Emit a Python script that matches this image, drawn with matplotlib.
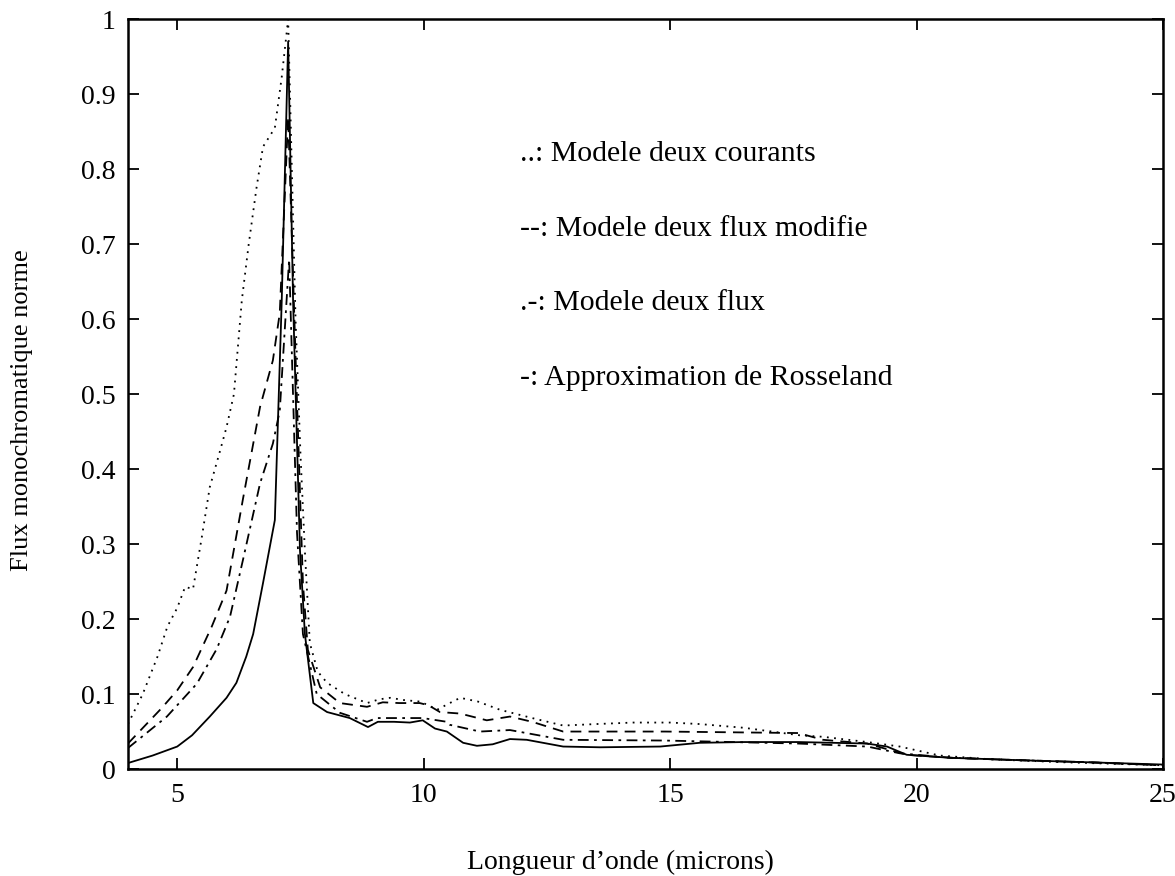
import matplotlib
matplotlib.use("Agg")
import matplotlib.pyplot as plt

# ---- data ----
x_courants = [4.0, 4.3, 4.6, 4.8, 5.0, 5.16, 5.32, 5.5, 5.66, 5.85, 6.0, 6.15, 6.31, 6.45, 6.61, 6.74,
              6.98, 7.12, 7.25, 7.4, 7.5, 7.59, 7.69, 7.85, 8.04, 8.4, 8.85, 9.1, 9.32, 9.6, 9.92, 10.1,
              10.27, 10.5, 10.74, 11.1, 11.55, 12.2, 12.83, 13.5, 14.25, 15.0, 15.6, 16.5, 17.63, 18.1,
              19.0, 19.66, 20.47, 21.5, 23.0, 25.0]
y_courants = [0.06, 0.1, 0.15, 0.19, 0.215, 0.243, 0.24, 0.31, 0.376, 0.42, 0.456, 0.5, 0.625, 0.7,
              0.776, 0.83, 0.855, 0.923, 1.0, 0.6, 0.42, 0.29, 0.168, 0.13, 0.115, 0.1, 0.088, 0.093,
              0.095, 0.092, 0.09, 0.085, 0.079, 0.087, 0.095, 0.09, 0.079, 0.068, 0.058, 0.06, 0.062,
              0.062, 0.06, 0.055, 0.045, 0.043, 0.036, 0.03, 0.018, 0.013, 0.009, 0.005]

x_modifie = [4.0, 4.68, 5.0, 5.32, 5.7, 6.0, 6.33, 6.68, 6.94, 7.08, 7.25, 7.4, 7.55, 7.65, 7.9, 8.3,
             8.85, 9.17, 9.5, 9.92, 10.1, 10.33, 10.74, 11.28, 11.75, 12.2, 12.83, 14.9, 17.6, 18.1,
             19.0, 19.8, 20.7, 22.0, 23.5, 25.0]
y_modifie = [0.034, 0.081, 0.105, 0.136, 0.19, 0.238, 0.359, 0.483, 0.545, 0.608, 0.87, 0.55, 0.248,
             0.159, 0.109, 0.088, 0.083, 0.089, 0.088, 0.088, 0.085, 0.076, 0.074, 0.065, 0.07, 0.063,
             0.05, 0.05, 0.048, 0.039, 0.034, 0.019, 0.015, 0.012, 0.009, 0.005]

x_flux = [4.0, 4.79, 5.4, 5.8, 6.07, 6.33, 6.68, 6.94, 7.08, 7.27, 7.43, 7.55, 7.83, 8.3, 8.85, 9.05,
          9.52, 9.98, 10.47, 10.53, 11.14, 11.75, 12.83, 14.9, 17.6, 19.0, 19.66, 20.7, 22.0, 23.5, 25.0]
y_flux = [0.028, 0.07, 0.114, 0.16, 0.203, 0.278, 0.381, 0.434, 0.478, 0.68, 0.315, 0.18, 0.1, 0.075,
          0.063, 0.068, 0.068, 0.068, 0.063, 0.059, 0.05, 0.052, 0.039, 0.038, 0.034, 0.03, 0.021,
          0.015, 0.012, 0.009, 0.005]

x_rosseland = [4.0, 4.5, 5.0, 5.3, 5.66, 6.0, 6.2, 6.4, 6.54, 6.74, 6.98, 7.12, 7.25, 7.35, 7.49,
               7.59, 7.76, 8.04, 8.5, 8.87, 9.07, 9.4, 9.72, 9.98, 10.23, 10.47, 10.8, 11.08, 11.4,
               11.75, 12.09, 12.83, 13.58, 14.8, 15.6, 16.5, 17.6, 18.99, 19.4, 19.8, 20.68, 22.0,
               23.5, 25.0]
y_rosseland = [0.008, 0.018, 0.03, 0.045, 0.07, 0.095, 0.115, 0.15, 0.18, 0.248, 0.332, 0.625, 0.97,
               0.625, 0.292, 0.18, 0.088, 0.076, 0.068, 0.056, 0.063, 0.063, 0.062, 0.065, 0.054,
               0.05, 0.035, 0.031, 0.033, 0.04, 0.039, 0.03, 0.029, 0.03, 0.035, 0.036, 0.036,
               0.034, 0.03, 0.019, 0.015, 0.012, 0.009, 0.006]

x_ticks = [5, 10, 15, 20, 25]
x_ticklabels = ["5", "10", "15", "20", "25"]
y_ticks = [0, 0.1, 0.2, 0.3, 0.4, 0.5, 0.6, 0.7, 0.8, 0.9, 1.0]
y_ticklabels = ["0", "0.1", "0.2", "0.3", "0.4", "0.5", "0.6", "0.7", "0.8", "0.9", "1"]

legend_texts = ["..: Modele deux courants", "--: Modele deux flux modifie",
                ".-: Modele deux flux", "-: Approximation de Rosseland"]

plt.rcParams["font.family"] = ["Liberation Serif", "DejaVu Serif"]

fig = plt.figure(figsize=(11.75, 8.76), dpi=100)
ax = fig.add_axes([0.1089, 0.1221, 0.9898 - 0.1089, 0.978 - 0.1221])

ax.plot(x_courants, y_courants, color="black", lw=1.3, linestyle=(0, (1, 3)))
ax.plot(x_modifie, y_modifie, color="black", lw=1.3, linestyle=(0, (6, 4)))
ax.plot(x_flux, y_flux, color="black", lw=1.3, linestyle=(0, (6, 3, 1.5, 3)))
ax.plot(x_rosseland, y_rosseland, color="black", lw=1.3, linestyle="-")

ax.set_xlim(4, 25)
ax.set_ylim(0, 1)
ax.set_xticks(x_ticks)
ax.set_xticklabels(x_ticklabels)
ax.set_yticks(y_ticks)
ax.set_yticklabels(y_ticklabels)
ax.tick_params(direction="in", length=8, width=1.3, top=True, right=True,
               labelsize=20, pad=10)
ax.tick_params(axis="y", pad=9)
for s in ax.spines.values():
    s.set_linewidth(1.8)

fig.text(620 / 1175, 1 - 862 / 876, "Longueur d\u2019onde (microns)", fontsize=20,
         ha="center", va="center")
fig.text(22 / 1175, 1 - 410 / 876, "Flux monochromatique norme", fontsize=19,
         ha="center", va="center", rotation=90)

for i, t in enumerate(legend_texts):
    ax.text(11.95, 0.82 - i * 0.0995, t, fontsize=21.5, ha="left", va="center")

fig.savefig("out.png", dpi=100)
